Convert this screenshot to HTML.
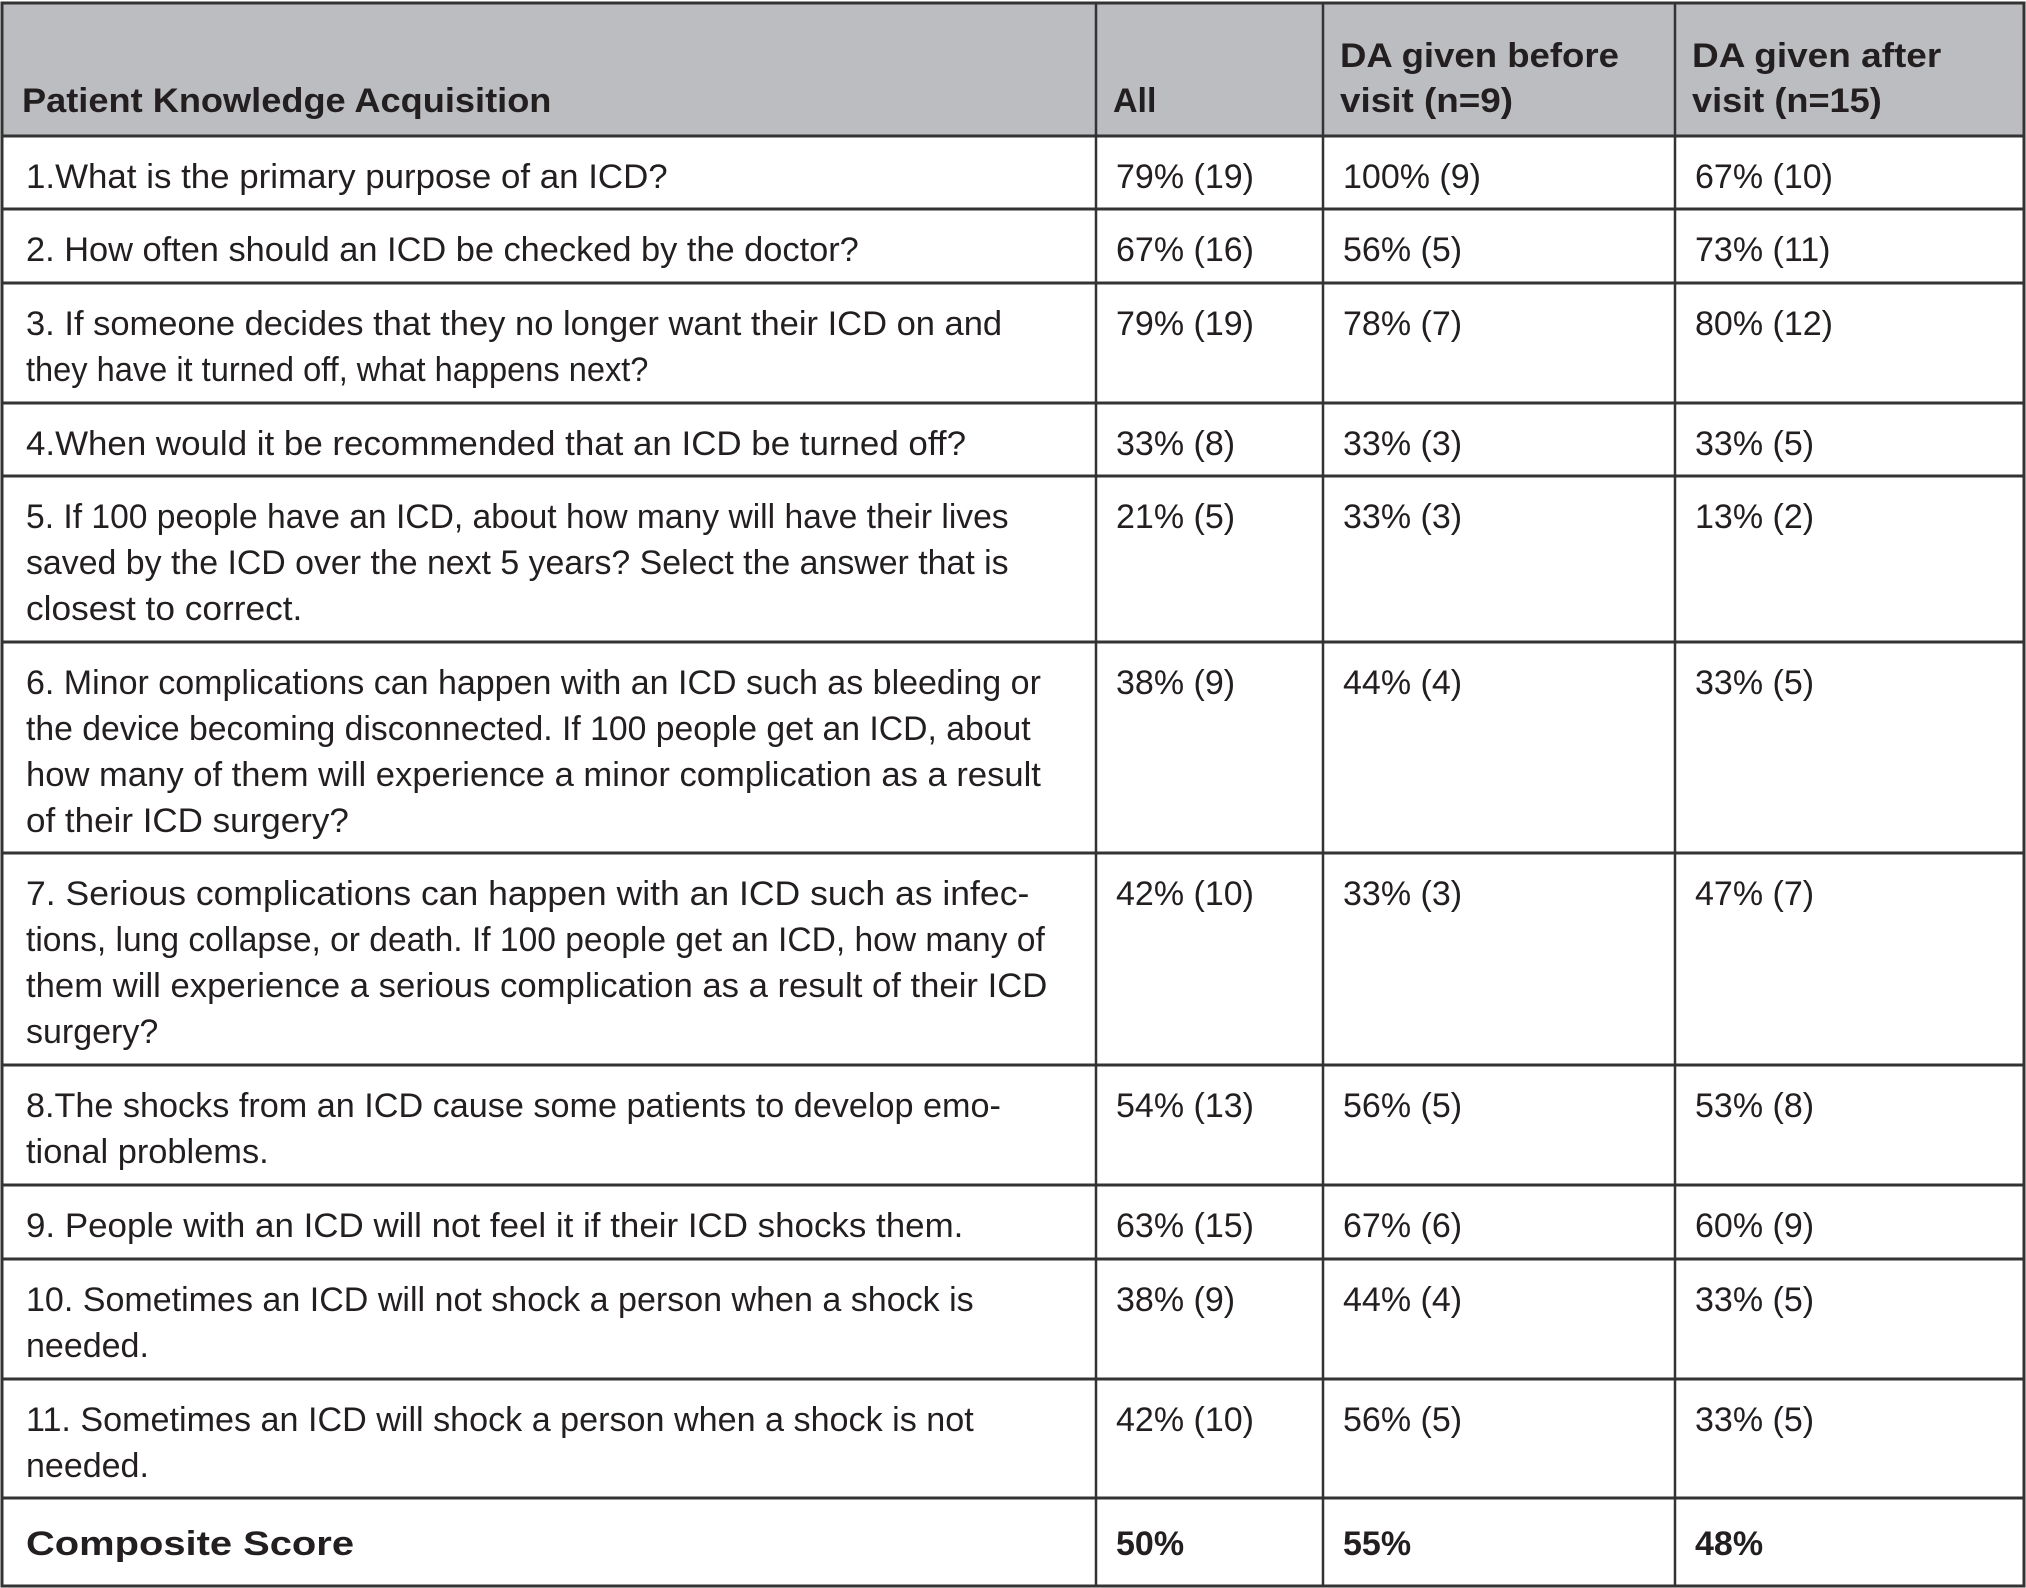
<!DOCTYPE html>
<html><head><meta charset="utf-8"><style>
html,body{margin:0;padding:0;background:#fff;}
svg{display:block;font-family:"Liberation Sans",sans-serif;}
</style></head><body>
<svg id="tbl" width="2026" height="1588" viewBox="0 0 2026 1588" xmlns="http://www.w3.org/2000/svg"></svg>
<script>
const S=1.2912;
const colX=[26,1116,1343,1695];
const colLines=[1096,1323,1675];
const rowBounds=[136,209,283,403,476,642,853,1065,1185,1259,1379,1498,1586];
const questions=[
 [["1.What is the primary purpose of an ICD?",517]],
 [["2. How often should an ICD be checked by the doctor?",665]],
 [["3. If someone decides that they no longer want their ICD on and",776],["they have it turned off, what happens next?",502]],
 [["4.When would it be recommended that an ICD be turned off?",748]],
 [["5. If 100 people have an ICD, about how many will have their lives",781],["saved by the ICD over the next 5 years? Select the answer that is",781],["closest to correct.",234]],
 [["6. Minor complications can happen with an ICD such as bleeding or",806],["the device becoming disconnected. If 100 people get an ICD, about",798],["how many of them will experience a minor complication as a result",806],["of their ICD surgery?",270]],
 [["7. Serious complications can happen with an ICD such as infec-",797],["tions, lung collapse, or death. If 100 people get an ICD, how many of",809],["them will experience a serious complication as a result of their ICD",811],["surgery?",107]],
 [["8.The shocks from an ICD cause some patients to develop emo-",775],["tional problems.",208]],
 [["9. People with an ICD will not feel it if their ICD shocks them.",746]],
 [["10. Sometimes an ICD will not shock a person when a shock is",754],["needed.",108]],
 [["11. Sometimes an ICD will shock a person when a shock is not",754],["needed.",108]]
];
const allVals=["79% (19)","67% (16)","79% (19)","33% (8)","21% (5)","38% (9)","42% (10)","54% (13)","63% (15)","38% (9)","42% (10)"];
const beforeVals=["100% (9)","56% (5)","78% (7)","33% (3)","33% (3)","44% (4)","33% (3)","56% (5)","67% (6)","44% (4)","56% (5)"];
const afterVals=["67% (10)","73% (11)","80% (12)","33% (5)","13% (2)","33% (5)","47% (7)","53% (8)","60% (9)","33% (5)","33% (5)"];
const composite=["50%","55%","48%"];
const svg=document.getElementById('tbl');
const NS="http://www.w3.org/2000/svg";
function mk(tag,attrs){const e=document.createElementNS(NS,tag);for(const k in attrs)e.setAttribute(k,attrs[k]);svg.appendChild(e);return e;}
function txt(str,x,y,bold,endDisp,name){
 const t=mk('text',{x:x,y:y,'font-size':34,fill:'#231f20','font-weight':bold?'bold':'normal'});
 t.textContent=str;
 if(endDisp){t.setAttribute('textLength',((endDisp-20)*S).toFixed(1));t.setAttribute('lengthAdjust','spacingAndGlyphs');}
 
 
 return t;
}
const hb=mk('rect',{x:2,y:3,width:2022,height:133,fill:'#bcbdc0'});


txt("Patient Knowledge Acquisition",22,112,true,430,'header-knowledge');
txt("All",1113,112,true,null,'header-all');
txt("DA given before",1340,67,true,(1254-1038+20),'header-before-line1');
txt("visit (n=9)",1340,112,true,(1172-1038+20),'header-before-line2');
txt("DA given after",1692,67,true,(1503-1310+20),'header-after-line1');
txt("visit (n=15)",1692,112,true,(1457-1310+20),'header-after-line2');
questions.forEach((lines,i)=>{
 const top=rowBounds[i];
 lines.forEach((ln,j)=>{
  txt(ln[0],colX[0],top+52+j*46,false,ln[1]>150?ln[1]:null,'question-'+(i+1)+'-line-'+(j+1));
 });
 txt(allVals[i],colX[1],top+52,false,null,'value-all-q'+(i+1));
 txt(beforeVals[i],colX[2],top+52,false,null,'value-before-q'+(i+1));
 txt(afterVals[i],colX[3],top+52,false,null,'value-after-q'+(i+1));
});
const ct=rowBounds[11];
txt("Composite Score",colX[0],ct+57,true,274,'composite-label');
txt(composite[0],colX[1],ct+57,true,null,'composite-all');
txt(composite[1],colX[2],ct+57,true,null,'composite-before');
txt(composite[2],colX[3],ct+57,true,null,'composite-after');
rowBounds.forEach((y,i)=>{
 const l=mk('line',{x1:1,x2:2025,y1:y,y2:y,stroke:'#333',"stroke-width":3});
 
 
});
colLines.forEach((x,i)=>{
 const l=mk('line',{x1:x,x2:x,y1:3,y2:1586,stroke:'#333',"stroke-width":2.5});
 
 
});
const ob=mk('rect',{x:2,y:3,width:2022,height:1583,fill:'none',stroke:'#333','stroke-width':3});


</script>
</body></html>
